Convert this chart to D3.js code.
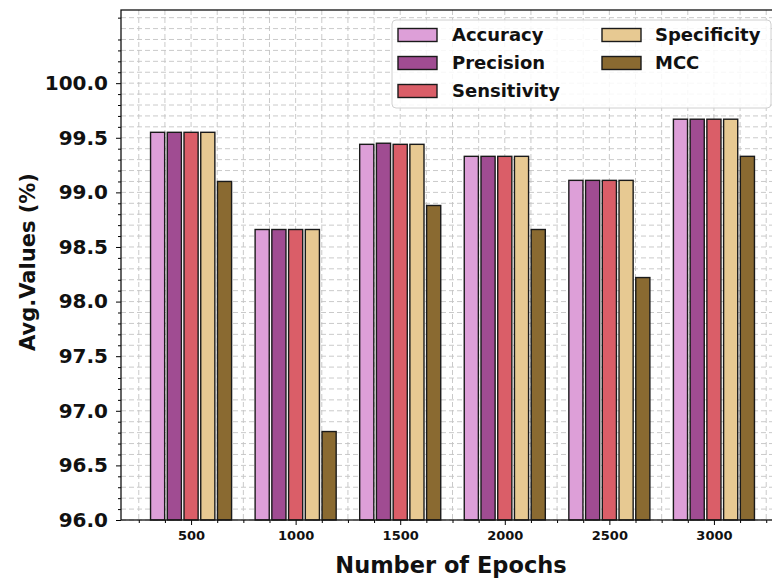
<!DOCTYPE html>
<html>
<head>
<meta charset="utf-8">
<script src="https://cdn.jsdelivr.net/npm/d3@7"></script>
<style>
  html, body { margin: 0; padding: 0; background: #fff; }
  svg { display: block; font-family: "DejaVu Sans", sans-serif; }
</style>
</head>
<body>
<svg id="chart" width="772" height="578"></svg>
<script>
// Average metric values per training-epoch setting
const epochs = [500, 1000, 1500, 2000, 2500, 3000];
const accuracy    = [99.55, 98.66, 99.44, 99.33, 99.11, 99.67];
const precision   = [99.55, 98.66, 99.45, 99.33, 99.11, 99.67];
const sensitivity = [99.55, 98.66, 99.44, 99.33, 99.11, 99.67];
const specificity = [99.55, 98.66, 99.44, 99.33, 99.11, 99.67];
const mcc         = [99.10, 96.81, 98.88, 98.66, 98.22, 99.33];

const seriesNames = ["Accuracy", "Precision", "Sensitivity", "Specificity", "MCC"];
const seriesColors = ["#dd9fd8", "#a04c92", "#da5e68", "#e7c992", "#8a6a31"];
const yTicks = [96.0, 96.5, 97.0, 97.5, 98.0, 98.5, 99.0, 99.5, 100.0];

const series = [accuracy, precision, sensitivity, specificity, mcc].map((vals, i) => ({
  name: seriesNames[i], color: seriesColors[i], values: vals
}));

const FONT = "DejaVu Sans";
const svg = d3.select("#chart");
const plot = { left: 121, top: 10, bottom: 520, right: 784 };

// x in group-index units, y in percent
const x = d3.scaleLinear().domain([-0.67, 5.67]).range([plot.left, plot.right]);
const y = d3.scaleLinear().domain([96, 100.67]).range([plot.bottom, plot.top]);

const step = 0.16, barW = 0.135;

// grid (major + minor, dashed)
const yMinor = d3.range(96, 100.67, 0.1);
const xMinor = d3.range(-0.5, 5.51, 0.25);
const grid = svg.append("g");
grid.selectAll("line.h").data(yMinor).join("line")
  .attr("x1", plot.left).attr("x2", plot.right)
  .attr("y1", d => y(d)).attr("y2", d => y(d))
  .attr("stroke", "#c4c4c4").attr("stroke-width", 0.9).attr("stroke-dasharray", "5,3");
grid.selectAll("line.v").data(xMinor).join("line")
  .attr("y1", plot.top).attr("y2", plot.bottom)
  .attr("x1", d => x(d)).attr("x2", d => x(d))
  .attr("stroke", "#c4c4c4").attr("stroke-width", 0.9).attr("stroke-dasharray", "5,3");

// bars
series.forEach((s, si) => {
  svg.append("g").selectAll("rect").data(s.values).join("rect")
    .attr("x", (d, i) => x(i + (si - 2) * step - barW / 2))
    .attr("width", x(barW) - x(0))
    .attr("y", d => y(d))
    .attr("height", d => y(96) - y(d))
    .attr("fill", s.color)
    .attr("stroke", "#1a1a1a").attr("stroke-width", 1.4);
});

// axes
const yAxis = d3.axisLeft(y).tickValues(yTicks).tickFormat(d3.format(".1f")).tickSize(5).tickPadding(8);
const gy = svg.append("g").attr("transform", `translate(${plot.left},0)`).call(yAxis)
  .attr("font-family", FONT);
gy.select(".domain").remove();
gy.selectAll("text").attr("font-size", 20).attr("font-weight", "bold").attr("fill", "#111");
const yMinorAxis = d3.axisLeft(y).tickValues(yMinor.filter(v => Math.abs(v * 2 - Math.round(v * 2)) > 1e-6)).tickFormat("").tickSize(3);
const gym = svg.append("g").attr("transform", `translate(${plot.left},0)`).call(yMinorAxis);
gym.select(".domain").remove();

const xAxis = d3.axisBottom(x).tickValues(d3.range(epochs.length)).tickFormat(i => epochs[i]).tickSize(5).tickPadding(6);
const gx = svg.append("g").attr("transform", `translate(0,${plot.bottom})`).call(xAxis)
  .attr("font-family", FONT);
gx.select(".domain").remove();
gx.selectAll("text").attr("font-size", 13).attr("font-weight", "bold").attr("fill", "#111");
const xMinorAxis = d3.axisBottom(x).tickValues(xMinor.filter(v => Math.abs(v - Math.round(v)) > 1e-6)).tickFormat("").tickSize(3);
const gxm = svg.append("g").attr("transform", `translate(0,${plot.bottom})`).call(xMinorAxis);
gxm.select(".domain").remove();

// frame
svg.append("rect")
  .attr("x", plot.left).attr("y", plot.top)
  .attr("width", plot.right - plot.left).attr("height", plot.bottom - plot.top)
  .attr("fill", "none").attr("stroke", "#111").attr("stroke-width", 1.3);

// axis titles
svg.append("text").attr("x", 451).attr("y", 573).attr("text-anchor", "middle")
  .attr("font-size", 22.5).attr("font-weight", "bold").attr("fill", "#111").text("Number of Epochs");
svg.append("text").attr("transform", "translate(35,262) rotate(-90)").attr("text-anchor", "middle")
  .attr("font-size", 21).attr("font-weight", "bold").attr("fill", "#111").text("Avg.Values (%)");

// legend
const lg = svg.append("g");
lg.append("rect").attr("x", 392).attr("y", 20).attr("width", 379).attr("height", 88).attr("rx", 4)
  .attr("fill", "#fff").attr("fill-opacity", 0.85).attr("stroke", "#d0d0d0");
const rowsY = [35, 63, 91];
series.forEach((s, i) => {
  const col = i < 3 ? 0 : 1;
  const row = i < 3 ? i : i - 3;
  const px = col === 0 ? 398 : 602;
  const tx = col === 0 ? 452 : 655;
  lg.append("rect").attr("x", px).attr("y", rowsY[row] - 6.5).attr("width", 39).attr("height", 13)
    .attr("fill", s.color).attr("stroke", "#1a1a1a").attr("stroke-width", 1.4);
  lg.append("text").attr("x", tx).attr("y", rowsY[row]).attr("dy", "0.35em")
    .attr("font-size", 18).attr("font-weight", "bold").attr("fill", "#111").text(s.name);
});
</script>
</body>
</html>
